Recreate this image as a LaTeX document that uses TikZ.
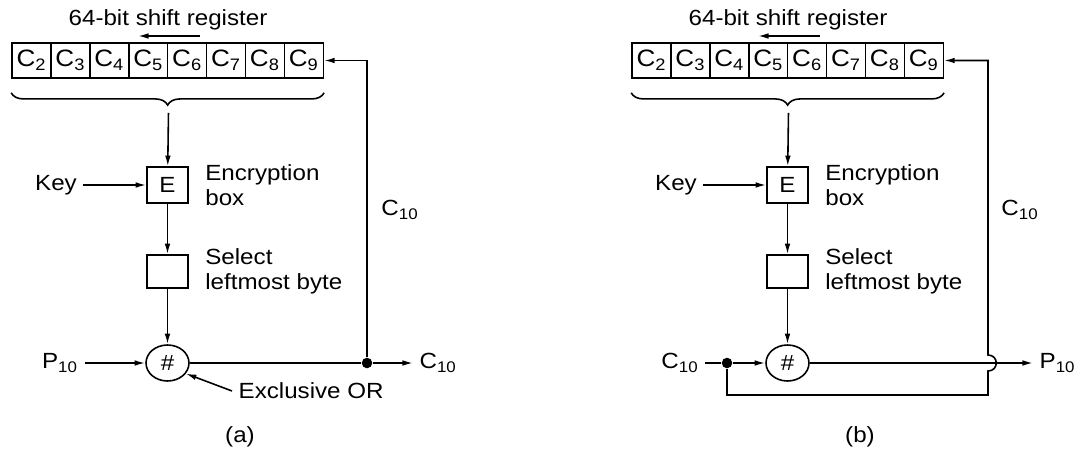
\documentclass[tikz,border=0pt]{standalone}
\usepackage{fontspec}
\setmainfont{Liberation Sans}[FakeStretch=1.1]
\usetikzlibrary{shapes.geometric, arrows.meta, positioning, calc, decorations.pathreplacing}

\begin{document}
\begin{tikzpicture}[
    x=0.02cm, y=-0.02cm,
    >={Latex[length=6pt,width=3.2pt]},
    font=\fontsize{12.5}{14}\selectfont,
    line width=0.9pt,
    cell/.style={draw, minimum width=0.78cm, minimum height=0.7cm, inner sep=0pt, font=\fontsize{13.5}{15}\selectfont},
    blockbox/.style={draw, minimum width=0.82cm, minimum height=0.72cm, inner sep=0pt},
    xorgate/.style={draw, ellipse, minimum width=0.86cm, minimum height=0.72cm, inner sep=0pt},
    note/.style={align=left, inner sep=1pt},
    dot/.style={circle, fill, inner sep=0pt, minimum size=6pt},
    brace/.style={decorate, decoration={brace, mirror, amplitude=7pt}}
  ]
  \useasboundingbox (0,0) rectangle (1086,450);

  % (a) cipher feedback, encryption
  \foreach \i [count=\k from 0] in {2,...,9}
    \node[cell] (ra\i) at (31.5+38.9*\k, 60.5) {C\textsubscript{\i}};
  \node (titlea) at (168,20) {64-bit shift register};
  \coordinate (shiftra) at (200,36);
  \coordinate (shiftla) at (138,36);
  \coordinate (bra) at ($(ra5.south east)+(0,34)$);
  \node[blockbox] (ea) at (167.5,185) {E};
  \node[blockbox, minimum height=0.66cm] (sela) at (167.5,271.5) {};
  \node[xorgate] (xa) at (167.5,363) {\#};
  \node (keya) at (56,185) {Key};
  \node[note, right=0.28cm of ea] (enca) {Encryption\\box};
  \node[note, right=0.28cm of sela] (seltxta) {Select\\leftmost byte};
  \node (pa) at (60,363) {P\textsubscript{10}};
  \node[dot] (da) at (367,363) {};
  \node[anchor=west] (ca) at (413,363) {C\textsubscript{10}};
  \node (fba) at (400,210) {C\textsubscript{10}};
  \node[anchor=west] (xora) at (232,391) {Exclusive OR};
  \node (capa) at (240,437) {(a)};

  \draw[->] (shiftra) -- (shiftla);
  \draw[brace] ($(ra2.south west)+(0,14)$) -- ($(ra9.south east)+(0,14)$);
  \draw[->] (bra) -- (ea);
  \draw[->] (keya) -- (ea);
  \draw[->] (ea) -- (sela);
  \draw[->] (sela) -- (xa);
  \draw[->] (pa) -- (xa);
  \draw (xa) -- (da);
  \draw[->] (da) -- (ca);
  \draw[->] (da) |- (ra9.east);
  \draw[->] (xora.west) -- (xa.-30);

  % (b) cipher feedback, decryption
  \begin{scope}[shift={(620,0)}]
  \foreach \i [count=\k from 0] in {2,...,9}
    \node[cell] (rb\i) at (31.5+38.9*\k, 60.5) {C\textsubscript{\i}};
  \node (titleb) at (168,20) {64-bit shift register};
  \coordinate (shiftrb) at (200,36);
  \coordinate (shiftlb) at (138,36);
  \coordinate (brb) at ($(rb5.south east)+(0,34)$);
  \node[blockbox] (eb) at (167.5,185) {E};
  \node[blockbox, minimum height=0.66cm] (selb) at (167.5,271.5) {};
  \node[xorgate] (xb) at (167.5,363) {\#};
  \node (keyb) at (56,185) {Key};
  \node[note, right=0.28cm of eb] (encb) {Encryption\\box};
  \node[note, right=0.28cm of selb] (seltxtb) {Select\\leftmost byte};
  \node (cb) at (60,363) {C\textsubscript{10}};
  \node[dot] (db) at (107,363) {};
  \node[anchor=west] (pb) at (413,363) {P\textsubscript{10}};
  \node (fbb) at (400,210) {C\textsubscript{10}};
  \coordinate (hopb) at (368,363);
  \node (capb) at (240,437) {(b)};

  \draw[->] (shiftrb) -- (shiftlb);
  \draw[brace] ($(rb2.south west)+(0,14)$) -- ($(rb9.south east)+(0,14)$);
  \draw[->] (brb) -- (eb);
  \draw[->] (keyb) -- (eb);
  \draw[->] (eb) -- (selb);
  \draw[->] (selb) -- (xb);
  \draw (cb) -- (db);
  \draw[->] (db) -- (xb);
  \draw[->] (xb) -- (pb);
  \draw[->] (db) -- ++(0,32) -| ($(hopb)+(0,8)$)
    .. controls +(11,0) and +(11,0) .. ($(hopb)+(0,-8)$) |- (rb9.east);
  \end{scope}
\end{tikzpicture}
\end{document}
